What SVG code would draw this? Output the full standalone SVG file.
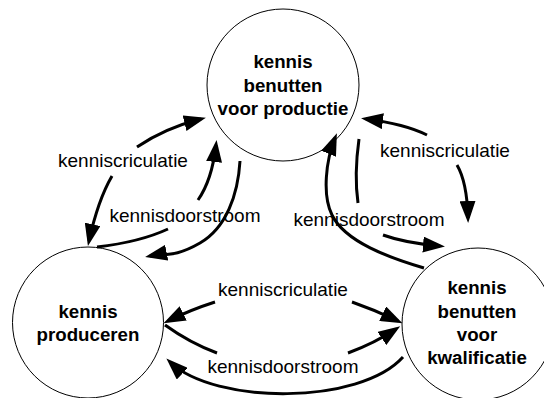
<svg xmlns="http://www.w3.org/2000/svg" width="544" height="398" viewBox="0 0 544 398">
  <defs>
    <style>
      .node { fill: #ffffff; stroke: #000000; stroke-width: 1; }
      .title { font-family: "Liberation Sans", Arial, sans-serif; font-size: 18.7px; font-weight: bold; fill: #000000; text-anchor: middle; }
      .flow { fill: none; stroke: #000000; stroke-width: 3; }
      .head { marker-end: url(#arrow); }
      .lbl { font-family: "Liberation Sans", Arial, sans-serif; font-size: 19px; fill: #000000; text-anchor: middle; }
    </style>
    <marker id="arrow" viewBox="0 0 22 16" refX="17" refY="8" markerWidth="22" markerHeight="16" markerUnits="userSpaceOnUse" orient="auto">
      <path d="M0,0 L22,8 L0,16 Z" fill="#000000"/>
    </marker>
  </defs>

  <rect width="544" height="398" fill="#ffffff"/>

  <!-- nodes -->
  <g id="node-productie">
    <circle class="node" cx="283" cy="85" r="76"/>
    <text class="title" x="283" y="68">kennis</text>
    <text class="title" x="283" y="92">benutten</text>
    <text class="title" x="283" y="115">voor productie</text>
  </g>
  <g id="node-produceren">
    <circle class="node" cx="88" cy="322.5" r="75.5"/>
    <text class="title" x="88" y="318">kennis</text>
    <text class="title" x="88" y="341">produceren</text>
  </g>
  <g id="node-kwalificatie">
    <circle class="node" cx="478" cy="324" r="76"/>
    <text class="title" x="477" y="294">kennis</text>
    <text class="title" x="477" y="318">benutten</text>
    <text class="title" x="477" y="341">voor</text>
    <text class="title" x="477" y="364">kwalificatie</text>
  </g>

  <!-- connectors -->
  <g id="connectors">
    <!-- circulation: produceren <-> productie -->
    <path class="flow head" d="M137,147 Q165,128 201,119"/>
    <path class="flow head" d="M112,176 Q98,200 89,241"/>
    <!-- throughflow: produceren -> productie -->
    <path class="flow" d="M97,247 Q140,242 168,229"/>
    <path class="flow head" d="M198,200 Q212,180 216,145"/>
    <!-- throughflow: productie -> produceren -->
    <path class="flow head" d="M240,161 C238,195 226,228 200,243 C174,258 165,253 150,256"/>

    <!-- circulation: productie <-> kwalificatie -->
    <path class="flow head" d="M427,135 Q405,124 366,119"/>
    <path class="flow head" d="M457,165 Q467,182 468,218"/>
    <!-- throughflow: productie -> kwalificatie -->
    <path class="flow" d="M359,139 Q354,175 358,203"/>
    <path class="flow head" d="M383,235 Q405,243 440,246"/>
    <!-- throughflow: kwalificatie -> productie -->
    <path class="flow head" d="M424,268 C390,258 345,242 332,215 C322,195 326,160 335,138"/>

    <!-- circulation: produceren <-> kwalificatie -->
    <path class="flow head" d="M215,302 Q190,310 168,321"/>
    <path class="flow head" d="M352,302 Q375,310 398,321"/>
    <!-- throughflow: produceren -> kwalificatie -->
    <path class="flow" d="M165,325 Q190,343 217,353"/>
    <path class="flow head" d="M348,353 Q375,343 396,329"/>
    <!-- throughflow: kwalificatie -> produceren -->
    <path class="flow head" d="M403,357 C360,405 215,405 170,362"/>
  </g>

  <!-- connector labels -->
  <g id="labels">
    <text class="lbl" x="123" y="167">kenniscriculatie</text>
    <text class="lbl" x="185" y="222">kennisdoorstroom</text>
    <text class="lbl" x="445" y="157">kenniscriculatie</text>
    <text class="lbl" x="369" y="226">kennisdoorstroom</text>
    <text class="lbl" x="283" y="296">kenniscriculatie</text>
    <text class="lbl" x="283" y="373">kennisdoorstroom</text>
  </g>
</svg>
